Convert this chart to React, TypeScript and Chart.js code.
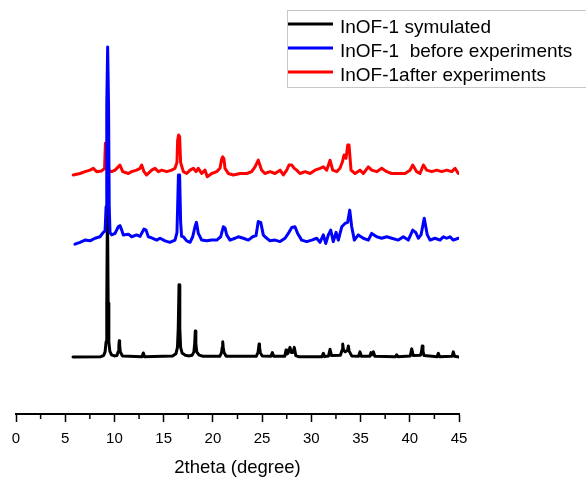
import { useEffect, useRef } from "react";
import { Chart, registerables } from "chart.js";

Chart.register(...registerables);

const FONT = "'Liberation Sans', Arial, Helvetica, sans-serif";

const seriesLabels = ["InOF-1 symulated", "InOF-1  before experiments", "InOF-1after experiments"];
const seriesColors = ["#000000", "#0000ff", "#ff0000"];
const xTitle = "2theta (degree)";
const xMin = 0;
const xMax = 45;
const xStep = 2.5;
const xLabelStep = 5;
const yMin = 0;
const yMax = 1000;

// [2theta, intensity (a.u.)]
const simulated: [number, number][] = [
  [5.79, 154], [8.6, 155], [8.9, 158], [9.05, 168], [9.15, 195], [9.22, 300], [9.29, 565], [9.36, 300], [9.43, 195], [9.53, 170], [9.7, 160], [10.0, 157],
  [10.25, 158], [10.38, 168], [10.45, 185], [10.49, 198], [10.53, 185], [10.6, 168], [10.8, 157],
  [12.8, 155], [12.93, 165], [13.06, 155],
  [15.9, 157], [16.25, 163], [16.4, 180], [16.48, 230], [16.56, 349], [16.64, 230], [16.72, 180], [16.87, 165], [17.2, 159], [17.6, 157],
  [17.9, 159], [18.07, 168], [18.15, 190], [18.21, 224], [18.27, 190], [18.36, 168], [18.6, 159], [19.0, 156],
  [20.7, 156], [20.88, 166], [20.95, 180], [21.0, 195], [21.05, 180], [21.13, 166], [21.35, 156],
  [24.4, 156], [24.58, 166], [24.65, 180], [24.69, 189], [24.74, 180], [24.82, 166], [25.0, 157],
  [25.9, 156], [26.04, 166], [26.18, 156],
  [27.3, 156], [27.43, 173], [27.52, 162], [27.63, 164], [27.83, 180], [27.98, 166], [28.13, 166], [28.27, 180], [28.42, 158], [28.7, 155],
  [31.08, 155], [31.22, 164], [31.36, 155],
  [31.75, 157], [31.9, 175], [32.05, 158],
  [32.95, 159], [33.12, 172], [33.19, 189], [33.27, 172], [33.45, 168], [33.68, 172], [33.76, 184], [33.84, 170], [34.1, 157],
  [34.8, 156], [34.94, 168], [35.08, 156],
  [35.95, 156], [36.06, 166], [36.15, 160], [36.3, 168], [36.45, 156],
  [38.55, 155], [38.67, 160], [38.8, 155],
  [40.05, 157], [40.2, 176], [40.35, 158],
  [41.1, 159], [41.2, 170], [41.27, 184], [41.34, 170], [41.45, 158],
  [42.78, 155], [42.9, 164], [43.02, 155],
  [44.3, 156], [44.42, 168], [44.55, 156],
  [45.0, 154],
];

const before: [number, number][] = [
  [5.99, 459], [6.5, 464], [7.01, 470], [7.52, 468], [8.03, 475], [8.53, 479], [8.87, 491],
  [9.05, 495], [9.15, 560], [9.22, 835], [9.31, 992], [9.4, 835], [9.47, 560], [9.55, 490],
  [9.72, 484], [10.06, 488], [10.39, 506], [10.56, 509], [10.74, 497], [10.9, 484], [11.41, 486], [11.75, 479],
  [12.26, 484], [12.6, 480], [13.0, 500], [13.21, 497], [13.44, 479], [13.78, 476], [14.29, 470], [14.63, 475],
  [15.14, 468], [15.64, 464], [16.15, 470], [16.35, 490],
  [16.42, 560], [16.5, 646], [16.62, 646], [16.72, 520], [16.82, 480],
  [17.0, 479], [17.34, 468], [17.68, 464], [17.95, 479], [18.18, 506], [18.33, 518], [18.52, 488], [18.86, 470],
  [19.37, 468], [19.88, 470], [20.39, 470], [20.79, 479], [21.06, 506], [21.23, 503], [21.4, 484], [21.74, 470],
  [22.25, 475], [22.58, 479], [23.09, 475], [23.6, 470], [24.04, 479], [24.38, 482], [24.61, 520], [24.86, 518],
  [25.12, 484], [25.29, 479], [25.8, 468], [26.31, 470], [26.82, 466], [27.33, 475], [27.66, 488], [28.01, 504],
  [28.34, 506], [28.61, 488], [29.02, 470], [29.53, 466], [30.04, 470], [30.55, 475], [30.88, 464], [31.22, 484],
  [31.46, 461], [31.73, 484], [31.97, 497], [32.23, 466], [32.51, 491], [32.74, 470], [33.09, 506], [33.42, 515],
  [33.69, 518], [33.9, 551], [34.1, 506], [34.37, 470], [34.77, 484], [35.28, 475], [35.79, 470], [36.13, 488],
  [36.64, 479], [37.15, 475], [37.66, 479], [38.17, 475], [38.84, 470], [39.34, 479], [39.85, 470], [40.3, 497],
  [40.6, 491], [40.87, 475], [41.14, 484], [41.47, 529], [41.78, 484], [42.06, 470], [42.56, 475], [43.07, 470],
  [43.41, 479], [43.75, 475], [44.09, 479], [44.42, 470], [44.93, 475],
];

const after: [number, number][] = [
  [5.82, 646], [6.5, 650], [7.01, 655], [7.52, 659], [7.85, 664], [8.2, 655], [8.7, 657], [9.0, 664],
  [9.08, 732], [9.2, 732], [9.3, 660], [9.72, 655], [10.06, 659], [10.39, 668], [10.56, 673], [10.84, 655],
  [11.41, 650], [11.75, 655], [12.26, 659], [12.6, 664], [12.77, 673], [13.0, 655], [13.27, 646], [13.78, 659],
  [14.12, 664], [14.46, 655], [14.8, 659], [15.31, 655], [15.82, 659], [16.15, 664], [16.35, 680],
  [16.42, 740], [16.52, 754], [16.62, 750], [16.72, 680],
  [17.0, 655], [17.34, 650], [17.68, 659], [18.01, 664], [18.29, 655], [18.52, 664], [18.86, 650], [19.2, 659],
  [19.43, 641], [19.88, 650], [20.39, 655], [20.72, 664], [20.9, 690], [21.0, 695], [21.12, 690], [21.23, 664],
  [21.57, 650], [22.07, 646], [22.76, 650], [23.44, 650], [23.94, 655], [24.28, 668], [24.61, 686], [24.95, 659],
  [25.29, 650], [25.8, 655], [26.31, 650], [26.82, 659], [27.16, 646], [27.5, 659], [27.73, 673], [28.01, 673],
  [28.27, 664], [28.51, 659], [28.85, 650], [29.36, 655], [29.87, 650], [30.37, 659], [30.88, 664], [31.22, 668],
  [31.56, 659], [31.9, 686], [32.17, 659], [32.58, 655], [32.91, 664], [33.15, 681], [33.32, 700], [33.52, 691],
  [33.7, 727], [33.83, 727], [34.03, 659], [34.44, 650], [34.94, 659], [35.28, 650], [35.79, 668], [36.13, 659],
  [36.64, 655], [37.15, 664], [37.66, 655], [38.17, 650], [38.84, 650], [39.52, 650], [40.03, 659], [40.3, 673],
  [40.7, 655], [41.04, 650], [41.38, 673], [41.72, 659], [42.23, 655], [42.74, 659], [43.24, 655], [43.75, 659],
  [44.26, 655], [44.6, 664], [44.93, 650],
];

const seriesData = [simulated, before, after];
const drawOrder = [3, 1, 2];

const minorTickPlugin = {
  id: "minorTicks",
  afterDraw(chart: any) {
    const s = chart.scales.x;
    const ctx = chart.ctx;
    ctx.save();
    ctx.strokeStyle = "#000";
    ctx.lineWidth = 1.5;
    s.ticks.forEach((t: any) => {
      if (Math.abs(t.value % xLabelStep) > 1e-6) {
        const px = s.getPixelForValue(t.value);
        ctx.beginPath();
        ctx.moveTo(px, s.top);
        ctx.lineTo(px, s.top + 5);
        ctx.stroke();
      }
    });
    ctx.restore();
  },
};

const boxLegendPlugin = {
  id: "boxLegend",
  afterDraw(chart: any) {
    const ctx = chart.ctx;
    const left = 287;
    const top = 10;
    const rowH = 24;
    ctx.save();
    ctx.strokeStyle = "#c8c8c8";
    ctx.lineWidth = 1;
    ctx.strokeRect(left + 0.5, top + 0.5, 320, 77);
    chart.data.datasets.forEach((ds: any, i: number) => {
      const y = top + 14 + i * rowH;
      ctx.strokeStyle = ds.borderColor;
      ctx.lineWidth = 3;
      ctx.beginPath();
      ctx.moveTo(left + 1, y);
      ctx.lineTo(left + 46, y);
      ctx.stroke();
      ctx.fillStyle = "#000";
      ctx.font = `19px ${FONT}`;
      ctx.textBaseline = "alphabetic";
      ctx.textAlign = "left";
      ctx.fillText(ds.label, left + 53, y + 9);
    });
    ctx.restore();
  },
};

export default function App() {
  const ref = useRef<HTMLCanvasElement | null>(null);

  useEffect(() => {
    document.body.style.margin = "0";
    const canvas = ref.current;
    if (!canvas) return;
    const chart = new Chart(canvas, {
      type: "line",
      data: {
        datasets: seriesData.map((d, i) => ({
          label: seriesLabels[i],
          data: d.map(([x, y]) => ({ x, y })),
          borderColor: seriesColors[i],
          backgroundColor: seriesColors[i],
          borderWidth: 3,
          borderJoinStyle: "round",
          borderCapStyle: "round",
          pointRadius: 0,
          tension: 0,
          fill: false,
          order: drawOrder[i],
        })),
      },
      options: {
        animation: false,
        responsive: false,
        maintainAspectRatio: false,
        layout: { padding: { left: 16, right: 127, top: 44, bottom: 0 } },
        plugins: { legend: { display: false }, tooltip: { enabled: false } },
        scales: {
          x: {
            type: "linear",
            min: xMin,
            max: xMax,
            afterFit: (scale: any) => {
              scale.height = 64;
            },
            border: { display: true, color: "#000", width: 2 },
            grid: {
              drawOnChartArea: false,
              drawTicks: true,
              tickLength: 8,
              tickWidth: 1.5,
              tickColor: (c: any) =>
                c.tick && Math.abs(c.tick.value % xLabelStep) < 1e-6 ? "#000" : "rgba(0,0,0,0)",
            },
            ticks: {
              stepSize: xStep,
              autoSkip: false,
              maxRotation: 0,
              padding: 8,
              color: "#000",
              font: { family: FONT, size: 15 },
              callback: (v: any) => (Math.abs(Number(v) % xLabelStep) < 1e-6 ? String(v) : ""),
            },
            title: {
              display: true,
              text: xTitle,
              color: "#000",
              font: { family: FONT, size: 18.5 },
              padding: { top: 4, bottom: -1 },
            },
          },
          y: { display: false, min: yMin, max: yMax },
        },
      },
      plugins: [minorTickPlugin, boxLegendPlugin],
    });
    return () => chart.destroy();
  }, []);

  return <canvas ref={ref} width={586} height={478} style={{ display: "block" }} />;
}
